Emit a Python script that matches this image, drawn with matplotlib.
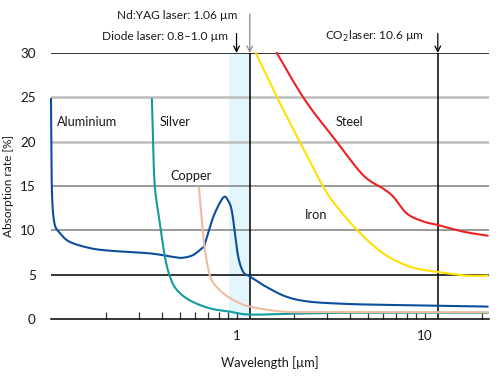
import matplotlib.pyplot as plt
import numpy as np

# Absorption data (wavelength in um, absorption in %)
al_x = [0.1026, 0.1030, 0.1039, 0.1070, 0.1144, 0.129, 0.165, 0.211, 0.344, 0.457, 0.510, 0.583,
        0.660, 0.676, 0.748, 0.846, 0.900, 0.937, 0.976, 1.016, 1.08, 1.17, 1.44, 1.84, 2.44,
        3.83, 6.0, 11.7, 21.5]
al_y = [24.8, 20.0, 14.0, 10.8, 9.7, 8.7, 8.0, 7.7, 7.4, 7.0, 6.9, 7.2,
        8.1, 8.5, 11.5, 13.7, 13.3, 12.3, 9.7, 7.0, 5.3, 4.8, 3.6, 2.5, 1.95,
        1.7, 1.6, 1.5, 1.4]

ag_x = [0.353, 0.358, 0.366, 0.389, 0.414, 0.440, 0.478, 0.562, 0.718, 0.918, 1.17, 2.0, 4.0, 21.5]
ag_y = [24.8, 20.0, 14.9, 10.8, 7.0, 4.8, 3.3, 2.1, 1.2, 0.83, 0.5, 0.6, 0.7, 0.7]

cu_x = [0.628, 0.662, 0.690, 0.733, 0.846, 0.996, 1.17, 1.76, 3.0, 21.5]
cu_y = [14.8, 9.3, 6.65, 4.4, 2.9, 1.95, 1.4, 0.83, 0.78, 0.75]

fe_x = [1.26, 1.66, 2.16, 2.88, 3.39, 4.42, 6.0, 8.32, 11.7, 16.7, 21.5]
fe_y = [30.0, 24.7, 20.0, 14.9, 12.7, 9.9, 7.4, 5.9, 5.3, 4.9, 4.9]

st_x = [1.63, 2.30, 3.39, 4.70, 6.0, 6.78, 8.0, 9.8, 11.7, 16.0, 21.5]
st_y = [30.0, 24.7, 20.0, 16.2, 14.7, 13.8, 11.9, 11.0, 10.6, 9.85, 9.4]

curves = [
    ('Aluminium', al_x, al_y, '#0b4f9c', (0.110, 22.2)),
    ('Silver', ag_x, ag_y, '#139c9c', (0.389, 22.2)),
    ('Copper', cu_x, cu_y, '#f0bca0', (0.440, 16.1)),
    ('Iron', fe_x, fe_y, '#ffe000', (2.30, 11.7)),
    ('Steel', st_x, st_y, '#ee2024', (3.36, 22.2)),
]

# laser positions as drawn in the picture
yag_pos = 1.17
co2_pos = 11.7
diode_band = (0.906, 1.17)

plt.rcParams['font.family'] = ['Lato', 'DejaVu Sans']
FS = 9.2

fig = plt.figure(figsize=(4.98, 3.83), dpi=100)
ax = fig.add_axes([51 / 498, 64 / 383, 438 / 498, 266 / 383])
ax.set_xscale('log')
ax.set_xlim(0.1026, 21.9)
ax.set_ylim(0, 30)

ax.axvspan(*diode_band, color='#e2f6fc', zorder=0, lw=0)

# horizontal grid
for yv, c, lw in [(30, 'black', 1.1), (25, '#bdbdbd', 1.8), (20, '#bdbdbd', 1.8),
                  (15, '#808080', 1.1), (10, '#808080', 1.1), (5, 'black', 1.1)]:
    ax.axhline(yv, color=c, lw=lw, zorder=1)
ax.axvline(yag_pos, color='black', lw=1.1, zorder=1)
ax.axvline(co2_pos, color='black', lw=1.1, zorder=1)

def smooth(xs, ys):
    # Catmull-Rom densify in log-x space
    lx = np.log10(xs)
    out_x, out_y = [], []
    P = np.column_stack([lx, ys])
    P = np.vstack([P[0], P, P[-1]])
    for i in range(1, len(P) - 2):
        p0, p1, p2, p3 = P[i - 1], P[i], P[i + 1], P[i + 2]
        for s in np.linspace(0, 1, 20, endpoint=False):
            pt = 0.5 * ((2 * p1) + (-p0 + p2) * s + (2 * p0 - 5 * p1 + 4 * p2 - p3) * s ** 2
                        + (-p0 + 3 * p1 - 3 * p2 + p3) * s ** 3)
            out_x.append(pt[0])
            out_y.append(pt[1])
    out_x.append(lx[-1])
    out_y.append(ys[-1])
    return 10 ** np.array(out_x), np.array(out_y)

for name, xs, ys, col, (tx, ty) in curves:
    sx, sy = smooth(xs, ys)
    ax.plot(sx, sy, color=col, lw=1.5, zorder=3, clip_on=False)
    ax.text(tx, ty, name, fontsize=FS, va='center', ha='left', color='#1a1a1a')

for s in ['top', 'left', 'right']:
    ax.spines[s].set_visible(False)
ax.spines['bottom'].set_linewidth(1.1)

ax.set_yticks([0, 5, 10, 15, 20, 25, 30])
ax.tick_params(axis='y', length=0, labelsize=FS + 0.5, pad=11, colors='#1a1a1a')
ax.set_xticks([1, 10])
ax.set_xticklabels(['1', '10'])
ax.tick_params(axis='x', which='both', direction='in', length=5, width=0.9,
               colors='#333333', labelcolor='#1a1a1a', labelsize=FS + 0.5, pad=8)

ax.set_xlabel('Wavelength [µm]', fontsize=FS, labelpad=10, color='#1a1a1a')
ax.set_ylabel('Absorption rate [%]', fontsize=8.6, color='#1a1a1a', va='center')
ax.yaxis.set_label_coords(-0.098, 0.5)

# laser annotations
ax.annotate('', xy=(yag_pos, 30), xytext=(yag_pos, 34.4), annotation_clip=False,
            arrowprops=dict(arrowstyle='->', color='#888888', lw=0.9, shrinkA=0, shrinkB=0))
ax.annotate('', xy=(0.995, 30), xytext=(0.995, 32.2), annotation_clip=False,
            arrowprops=dict(arrowstyle='->', color='black', lw=0.9, shrinkA=0, shrinkB=0))
ax.annotate('', xy=(co2_pos, 30), xytext=(co2_pos, 32.2), annotation_clip=False,
            arrowprops=dict(arrowstyle='->', color='black', lw=0.9, shrinkA=0, shrinkB=0))
ax.text(1.005, 34.25, 'Nd:YAG laser: 1.06 µm', fontsize=8.6, ha='right', va='center', color='#1a1a1a')
ax.text(0.90, 31.9, 'Diode laser: 0.8–1.0 µm', fontsize=8.6, ha='right', va='center', color='#1a1a1a')
ax.text(9.85, 31.9, 'CO$_2$laser: 10.6 µm', fontsize=8.6, ha='right', va='center', color='#1a1a1a')

fig.savefig('out.png', dpi=100)
